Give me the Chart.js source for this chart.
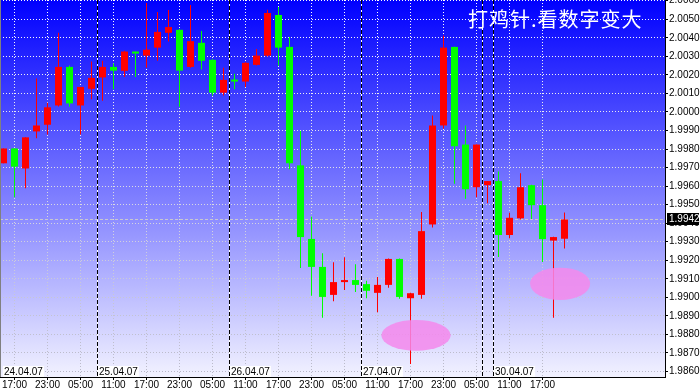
<!DOCTYPE html>
<html>
<head>
<meta charset="utf-8">
<script src="https://cdn.jsdelivr.net/npm/chart.js@4.4.0/dist/chart.umd.min.js"></script>
<style>
    html, body { margin: 0; padding: 0; background: #fff; }
    canvas { display: block; }
</style>
</head>
<body>
<canvas id="priceChart" width="700" height="390"></canvas>
<script>
// H2 candles, one per slot (slot 0 = first bar on the left)
const opens  = [1.99723, 1.99803, 1.99695, 1.99895, 1.99931, 2.00035, 2.00243, 2.00035, 2.00125, 2.00186,
                2.00243, 2.00222, 2.00326, 2.00304, 2.00347, 2.00427, 2.00443, 2.00243, 2.00373, 2.00281,
                2.00104, 2.00173, 2.00164, 2.00254, 2.00304, 2.00523, 2.00351, 1.99712, 1.99315, 1.99164,
                1.99013, 1.99082, 1.99093, 1.99071, 1.99024, 1.99067, 1.99207, 1.98995, 1.99013, 1.99393,
                1.99927, 2.00351, 1.99824, 1.99594, 1.99605, 1.99627, 1.99336, 1.99426, 1.99605, 1.99497,
                1.99306, 1.99316];
const highs  = [1.99803, 1.99803, 1.99863, 2.00180, 2.00050, 2.00427, 2.00250, 2.00135, 2.00272, 2.00276,
                2.00263, 2.00330, 2.00326, 2.00588, 2.00539, 2.00550, 2.00447, 2.00577, 2.00437, 2.00285,
                2.00238, 2.00206, 2.00268, 2.00340, 2.00552, 2.00566, 2.00405, 1.99897, 1.99436, 1.99237,
                1.99189, 1.99216, 1.99178, 1.99089, 1.99110, 1.99210, 1.99210, 1.99024, 1.99460, 1.99981,
                2.00412, 2.00352, 1.99927, 1.99826, 1.99627, 1.99679, 1.99456, 1.99669, 1.99607, 1.99636,
                1.99327, 1.99458];
const lows   = [1.99723, 1.99540, 1.99588, 1.99858, 1.99878, 2.00030, 2.00028, 1.99878, 2.00068, 2.00061,
                2.00122, 2.00188, 2.00189, 2.00238, 2.00276, 2.00380, 2.00028, 2.00239, 2.00229, 2.00089,
                2.00089, 2.00122, 2.00134, 2.00250, 2.00299, 2.00250, 1.99691, 1.99158, 1.99008, 1.98889,
                1.98979, 1.99039, 1.99028, 1.98995, 1.98920, 1.99051, 1.98992, 1.98640, 1.98992, 1.99377,
                1.99911, 1.99613, 1.99532, 1.99540, 1.99508, 1.99218, 1.99318, 1.99420, 1.99422, 1.99191,
                1.98889, 1.99263];
const closes = [1.99803, 1.99705, 1.99863, 1.99927, 2.00025, 2.00243, 2.00046, 2.00135, 2.00184, 2.00243,
                2.00223, 2.00326, 2.00315, 2.00336, 2.00432, 2.00458, 2.00223, 2.00382, 2.00276, 2.00104,
                2.00173, 2.00164, 2.00265, 2.00304, 2.00534, 2.00347, 1.99723, 1.99325, 1.99164, 1.99002,
                1.99082, 1.99093, 1.99067, 1.99035, 1.99067, 1.99207, 1.99002, 1.99022, 1.99357, 1.99927,
                2.00347, 1.99815, 1.99583, 1.99824, 1.99627, 1.99336, 1.99429, 1.99594, 1.99497, 1.99314,
                1.99325, 1.99420];

const timeSlots  = [1, 4, 7, 10, 13, 16, 19, 22, 25, 28, 31, 34, 37, 40, 43, 46, 49];
const timeLabels = ['17:00', '23:00', '05:00', '11:00', '17:00', '23:00', '05:00', '11:00', '17:00',
                    '23:00', '05:00', '11:00', '17:00', '23:00', '05:00', '11:00', '17:00'];
const yTicks = [1.9860, 1.9870, 1.9880, 1.9890, 1.9900, 1.9910, 1.9920, 1.9930, 1.9940, 1.9950, 1.9960,
                1.9970, 1.9980, 1.9990, 2.0000, 2.0010, 2.0020, 2.0030, 2.0040, 2.0050, 2.0060];

const firstDay  = '24.04.07';
const dayBreaks = [8.5, 20.5, 32.5, 43.5, 44.5];
const dayLabels = ['25.04.07', '26.04.07', '27.04.07', '', '30.04.07'];

const title = '打鸡针.看数字变大';

// pink marks drawn on the chart (slot, price, half width in slots, half height in price)
const marks = [
    { slot: 37.5, price: 1.98795, rx: 3.15, ry: 0.00083 },
    { slot: 50.6, price: 1.99073, rx: 2.73, ry: 0.00087 }
];

const UP = '#ff0000';
const DOWN = '#00ff00';

function candleColor(ctx) {
    const i = ctx.dataIndex;
    return closes[i] >= opens[i] ? UP : DOWN;
}

function gridColor(context) {
    const chart = context.chart;
    const a = chart.chartArea;
    if (!a) {
        return '#dddddd';
    }
    const g = chart.ctx.createLinearGradient(0, a.top, 0, a.bottom);
    g.addColorStop(0, '#ffffff');
    g.addColorStop(1, '#b8b8c8');
    return g;
}

const backdrop = {
    id: 'backdrop',
    beforeDraw(chart) {
        const { ctx, chartArea: a } = chart;
        const g = ctx.createLinearGradient(0, a.top, 0, a.bottom);
        g.addColorStop(0, 'rgb(0,0,255)');
        g.addColorStop(1, 'rgb(242,242,255)');
        ctx.save();
        ctx.fillStyle = g;
        ctx.fillRect(a.left, a.top, a.right - a.left, a.bottom - a.top);
        ctx.restore();
    },
    beforeDatasetsDraw(chart) {
        const { ctx, chartArea: a, scales } = chart;
        ctx.save();
        // day separators
        dayBreaks.forEach(b => {
            const x = Math.round(scales.x.getPixelForValue(b)) + 0.5;
            ctx.lineWidth = 1;
            ctx.setLineDash([]);
            ctx.strokeStyle = '#ffffff';
            ctx.beginPath();
            ctx.moveTo(x, a.top);
            ctx.lineTo(x, a.bottom);
            ctx.stroke();
            ctx.setLineDash([4, 2]);
            ctx.strokeStyle = '#000000';
            ctx.beginPath();
            ctx.moveTo(x, a.top);
            ctx.lineTo(x, a.bottom);
            ctx.stroke();
        });
        // last price line
        const y = Math.round(scales.y.getPixelForValue(closes[closes.length - 1])) + 0.5;
        ctx.setLineDash([3, 2]);
        ctx.strokeStyle = '#c8c8d0';
        ctx.beginPath();
        ctx.moveTo(a.left, y);
        ctx.lineTo(a.right, y);
        ctx.stroke();
        ctx.restore();
    },
    afterDatasetsDraw(chart) {
        const { ctx, chartArea: a, scales } = chart;
        ctx.save();
        ctx.beginPath();
        ctx.rect(a.left, a.top, a.right - a.left, a.bottom - a.top);
        ctx.clip();
        ctx.fillStyle = 'rgba(244,136,236,0.85)';
        marks.forEach(m => {
            const cx = scales.x.getPixelForValue(m.slot);
            const cy = scales.y.getPixelForValue(m.price);
            const rx = scales.x.getPixelForValue(m.slot + m.rx) - cx;
            const ry = cy - scales.y.getPixelForValue(m.price + m.ry);
            ctx.beginPath();
            ctx.ellipse(cx, cy, rx, ry, 0, 0, Math.PI * 2);
            ctx.fill();
        });
        ctx.restore();

        // date boxes along the bottom of the plot
        ctx.save();
        ctx.font = '10px "Liberation Sans", Arial, sans-serif';
        ctx.textBaseline = 'alphabetic';
        const drawDay = (text, x) => {
            const w = ctx.measureText(text).width + 2;
            ctx.fillStyle = '#ffffff';
            ctx.fillRect(x, a.bottom - 11, w, 11);
            ctx.fillStyle = '#000000';
            ctx.fillText(text, x + 1, a.bottom - 2);
        };
        drawDay(firstDay, a.left + 3);
        dayBreaks.forEach((b, i) => {
            if (dayLabels[i]) {
                drawDay(dayLabels[i], Math.round(scales.x.getPixelForValue(b)) + 1);
            }
        });
        ctx.restore();
    },
    afterDraw(chart) {
        const { ctx, chartArea: a, scales } = chart;
        ctx.save();
        // left frame line
        ctx.fillStyle = '#808080';
        ctx.fillRect(0, 0, 1, a.bottom);

        // title
        ctx.fillStyle = '#ffffff';
        ctx.font = '20px "Noto Sans CJK SC", sans-serif';
        ctx.textBaseline = 'middle';
        ctx.letterSpacing = '1px';
        ctx.fillText(title, 468, 19);
        ctx.letterSpacing = '0px';

        // last price tag
        const last = closes[closes.length - 1];
        const y = Math.round(scales.y.getPixelForValue(last));
        ctx.fillStyle = '#000000';
        ctx.fillRect(a.right + 2, y - 6, 32, 12);
        ctx.fillStyle = '#ffffff';
        ctx.font = '10px "Liberation Sans", Arial, sans-serif';
        ctx.textBaseline = 'middle';
        ctx.fillText(last.toFixed(4), a.right + 4, y + 0.5);
        ctx.restore();
    }
};

const axisFont = { family: '"Liberation Sans", Arial, sans-serif', size: 10, lineHeight: 1 };

new Chart(document.getElementById('priceChart'), {
    type: 'bar',
    data: {
        datasets: [
            {
                label: 'body',
                data: opens.map((o, i) => ({ x: i, y: [o, closes[i]] })),
                backgroundColor: candleColor,
                barThickness: 7,
                minBarLength: 2,
                borderWidth: 0,
                inflateAmount: 0,
                grouped: false
            },
            {
                label: 'wick',
                data: lows.map((l, i) => ({ x: i, y: [l, highs[i]] })),
                backgroundColor: candleColor,
                barThickness: 1,
                borderWidth: 0,
                inflateAmount: 0,
                grouped: false
            }
        ]
    },
    options: {
        responsive: false,
        animation: false,
        layout: { padding: 0 },
        plugins: {
            legend: { display: false },
            tooltip: { enabled: false }
        },
        scales: {
            x: {
                type: 'linear',
                offset: false,
                min: -0.318,
                max: 60.136,
                afterBuildTicks: s => { s.ticks = timeSlots.map(v => ({ value: v })); },
                afterFit: s => { s.height = 13; s.paddingLeft = 0; s.paddingRight = 0; },
                grid: {
                    offset: false,
                    color: gridColor,
                    tickColor: '#000000',
                    tickLength: 3
                },
                border: { color: '#000000', dash: [1, 2] },
                ticks: {
                    autoSkip: false,
                    maxRotation: 0,
                    padding: 0,
                    color: '#000000',
                    font: axisFont,
                    callback: v => timeLabels[timeSlots.indexOf(v)]
                }
            },
            y: {
                position: 'right',
                min: 1.98570,
                max: 2.00604,
                afterBuildTicks: s => { s.ticks = yTicks.map(v => ({ value: v })); },
                afterFit: s => { s.width = 35; s.paddingTop = 0; s.paddingBottom = 0; },
                grid: {
                    color: gridColor,
                    tickColor: '#000000',
                    tickLength: 3
                },
                border: { color: '#000000', dash: [1, 2] },
                ticks: {
                    autoSkip: false,
                    padding: 1,
                    color: '#000000',
                    font: axisFont,
                    callback: v => v.toFixed(4)
                }
            }
        }
    },
    plugins: [backdrop]
});
</script>
</body>
</html>
